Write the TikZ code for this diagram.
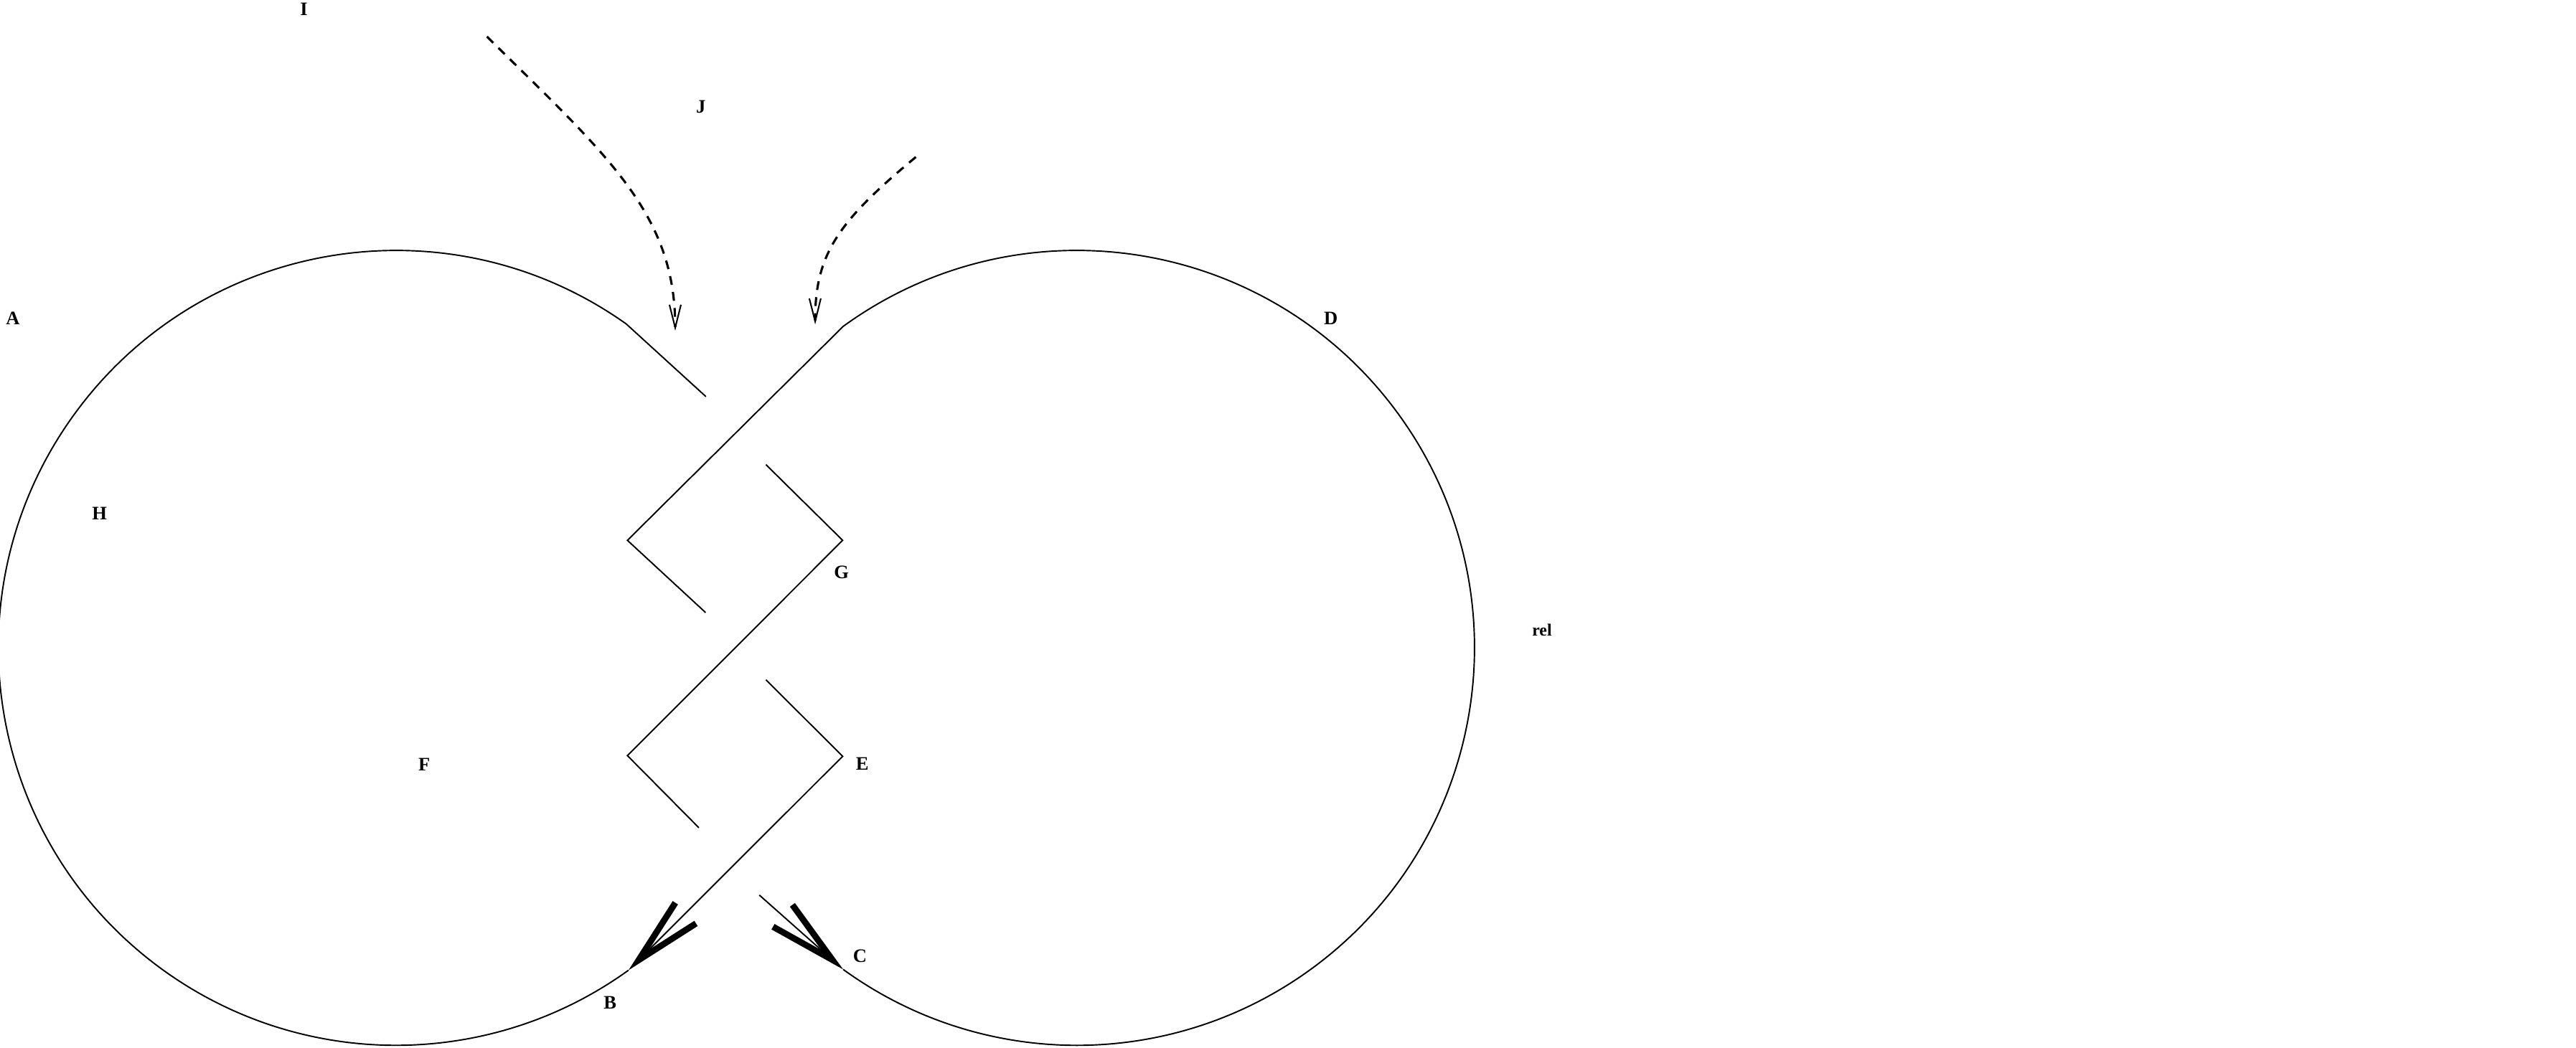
\documentclass[tikz,border=0pt]{standalone}
\usepackage{fontspec}
\setmainfont{Liberation Serif}
\usetikzlibrary{arrows.meta,calc}
\begin{document}
\begin{tikzpicture}[x=0.5pt,y=0.5pt,
  thinline/.style={line width=0.42pt, line join=miter, line cap=butt},
  dashline/.style={line width=0.68pt, dash pattern=on 2.7pt off 2.2pt,
    -{Straight Barb[length=7pt,width=3.5pt,line width=0.45pt,sharp]}},
  thickarrow/.style={-{Straight Barb[length=20.2pt,width=8.9pt,line width=1.9pt,sharp]}},
  lab/.style={font=\fontsize{5.8}{7}\selectfont\bfseries, inner sep=0pt},
  smalllab/.style={font=\fontsize{5.2}{6}\selectfont\bfseries, inner sep=0pt}
]
\useasboundingbox (0,0) rectangle (1568,637.7);

% centres of the two circles
\coordinate (Lc) at (241,243.2);
\coordinate (Rc) at (655.5,243.2);

% points on the curves
\coordinate (Ltop) at ($(Lc)+(54.6:242)$);
\coordinate (Lend) at (429.7,396.2);
\coordinate (Btip) at ($(Lc)+(-54.2:242)$);
\coordinate (Rtop) at ($(Rc)+(126:242)$);
\coordinate (Ctip) at ($(Rc)+(-126:242)$);
\coordinate (P1) at (429.5,264.7);
\coordinate (V1) at (381.9,308.7);
\coordinate (G1s) at (466.2,354.8);
\coordinate (Gv) at (512.9,308.7);
\coordinate (V2) at (381.9,177.6);
\coordinate (G1e) at (425.4,133.7);
\coordinate (E1s) at (466.2,223.8);
\coordinate (Ev) at (512.9,177.2);
\coordinate (C1s) at (462.2,92.7);
\coordinate (D1s) at (296.4,615.4);
\coordinate (D1e) at (411,436.3);
\coordinate (D2s) at (557.5,542.1);
\coordinate (D2e) at (496.2,440.1);

% left loop
\draw[thinline] (Lend) -- (Ltop) arc[start angle=54.6, end angle=305.8, radius=242];
% right loop
\draw[thinline] (P1) -- (V1) -- (Rtop) arc[start angle=126, end angle=-126, radius=242];
% zigzag pieces
\draw[thinline] (G1s) -- (Gv) -- (V2) -- (G1e);
\draw[thinline, thickarrow] (E1s) -- (Ev) -- (Btip);
\draw[thinline, thickarrow] (C1s) -- (Ctip);
% dashed arrows
\draw[dashline] (D1s) .. controls (370,542.7) and (411,507.7) .. (D1e);
\draw[dashline] (D2s) .. controls (510,502.7) and (496,482.7) .. (D2e);

% labels
\node[lab] (A) at (7.8,443.8) {A};
\node[lab] (B) at (371.3,27.0) {B};
\node[lab] (C) at (523.4,55.4) {C};
\node[lab] (D) at (810.1,443.8) {D};
\node[lab] (E) at (524.9,172.5) {E};
\node[lab] (F) at (258.2,172.3) {F};
\node[lab] (G) at (512.2,289.4) {G};
\node[lab] (H) at (60.6,325.2) {H};
\node[lab] (I) at (185,632.1) {I};
\node[lab] (J) at (426.6,572.5) {J};
\node[smalllab] (rel) at (938.6,254.2) {rel};
\end{tikzpicture}
\end{document}
